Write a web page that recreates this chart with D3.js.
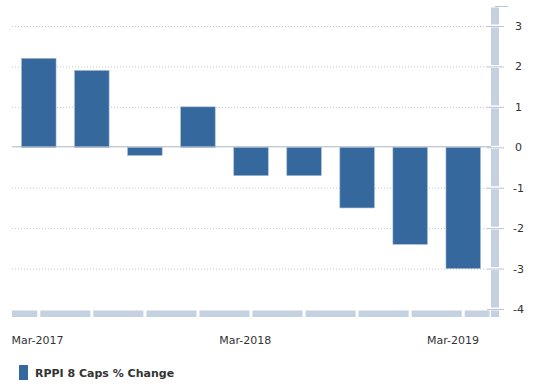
<!DOCTYPE html>
<html>
<head>
<meta charset="utf-8">
<script src="https://cdn.jsdelivr.net/npm/d3@7"></script>
<style>
  body { margin: 0; background: #fff; }
  text { font-family: "DejaVu Sans", Verdana, sans-serif; fill: #333; }
</style>
</head>
<body>
<div id="chart-area"></div>
<script>
// data
var quarters = ["Mar-2017","Jun-2017","Sep-2017","Dec-2017","Mar-2018","Jun-2018","Sep-2018","Dec-2018","Mar-2019"];
var values = [2.2, 1.9, -0.2, 1.0, -0.7, -0.7, -1.5, -2.4, -3.0];
var yTicks = [3, 2, 1, 0, -1, -2, -3, -4];
var xLabels = ["Mar-2017", "Mar-2018", "Mar-2019"];
var seriesName = "RPPI 8 Caps % Change";

// plot box
var W = 535, H = 387;
var plotLeft = 12, plotRight = 491, plotTop = 26, plotBottom = 309;

var svg = d3.select("#chart-area").append("svg")
    .attr("width", W)
    .attr("height", H);

// scales
var x = d3.scaleBand()
    .domain(quarters)
    .range([plotLeft, plotRight - 1])
    .paddingInner(0.35)
    .paddingOuter(0.18);
var y = d3.scaleLinear()
    .domain([-4, 3])
    .range([plotBottom, plotTop]);
// the tick labels sit a little tighter than the bars
var labelX = d3.scalePoint()
    .domain(quarters)
    .range([37.5, 453]);

// gridlines
svg.append("g").selectAll("line")
    .data(yTicks.filter(function(d) { return d !== 0 && d !== -4; }))
    .enter().append("line")
    .attr("x1", plotLeft).attr("x2", plotRight - 3)
    .attr("y1", function(d) { return y(d) + 0.5; })
    .attr("y2", function(d) { return y(d) + 0.5; })
    .attr("stroke", "#c8c8c8")
    .attr("stroke-dasharray", "1,2");

// bars
svg.append("g").selectAll("rect")
    .data(values)
    .enter().append("rect")
    .attr("x", function(d, i) { return x(quarters[i]); })
    .attr("width", x.bandwidth())
    .attr("y", function(d) { return y(Math.max(0, d)); })
    .attr("height", function(d) { return Math.abs(y(d) - y(0)); })
    .attr("fill", "#35689c")
    .attr("stroke", "#9fb5cf")
    .attr("stroke-width", 0.6);

// zero line
svg.append("line")
    .attr("x1", plotLeft).attr("x2", plotRight)
    .attr("y1", y(0) - 0.5).attr("y2", y(0) - 0.5)
    .attr("stroke", "#a9b7c9")
    .attr("stroke-width", 1);

// bottom axis bar, split at each quarter
var xEdges = [plotLeft].concat(quarters.map(function(q) { return x(q) + x.bandwidth() / 2; })).concat([plotRight]);
svg.append("g").selectAll("rect")
    .data(d3.pairs(xEdges))
    .enter().append("rect")
    .attr("x", function(d, i) { return i === 0 ? d[0] : d[0] + 1.5; })
    .attr("width", function(d, i) { return i === 0 ? d[1] - d[0] - 1.5 : d[1] - d[0] - 3; })
    .attr("y", plotBottom + 1.5)
    .attr("height", 6.5)
    .attr("fill", "#c5d0e0");

// right axis bar, split at each tick
var yEdges = [6].concat(yTicks.map(function(t) { return y(t); }));
svg.append("g").selectAll("rect")
    .data(d3.pairs(yEdges))
    .enter().append("rect")
    .attr("x", plotRight)
    .attr("width", 8)
    .attr("y", function(d) { return d[0] + 1.5; })
    .attr("height", function(d) { return d[1] - d[0] - 3; })
    .attr("fill", "#c5d0e0");
svg.append("rect")
    .attr("x", plotRight).attr("width", 8)
    .attr("y", y(-4) + 1.5).attr("height", 6.5)
    .attr("fill", "#c5d0e0");

// y ticks and labels
var yAxis = svg.append("g");
yAxis.append("line")
    .attr("x1", plotRight + 4).attr("x2", plotRight + 17)
    .attr("y1", 6.5).attr("y2", 6.5)
    .attr("stroke", "#b8c4d4");
yAxis.selectAll(".tk")
    .data(yTicks)
    .enter().append("line")
    .attr("class", "tk")
    .attr("x1", plotRight - 4).attr("x2", plotRight + 13)
    .attr("y1", function(d) { return y(d) + 0.5; })
    .attr("y2", function(d) { return y(d) + 0.5; })
    .attr("stroke", "#b8c4d4");
yAxis.selectAll("text")
    .data(yTicks)
    .enter().append("text")
    .attr("x", function(d) { return d < 0 ? 513 : 515; })
    .attr("y", function(d) { return y(d) + 4; })
    .attr("font-size", "11px")
    .text(function(d) { return d; });

// x labels
svg.append("g").selectAll("text")
    .data(xLabels)
    .enter().append("text")
    .attr("x", function(d) { return labelX(d); })
    .attr("y", 344)
    .attr("text-anchor", "middle")
    .attr("font-size", "11px")
    .text(function(d) { return d; });

// legend
svg.append("rect")
    .attr("x", 19).attr("y", 365)
    .attr("width", 9).attr("height", 15)
    .attr("fill", "#35689c");
svg.append("text")
    .attr("x", 35).attr("y", 377)
    .attr("font-size", "11px")
    .attr("font-weight", "bold")
    .text(seriesName);
</script>
</body>
</html>
